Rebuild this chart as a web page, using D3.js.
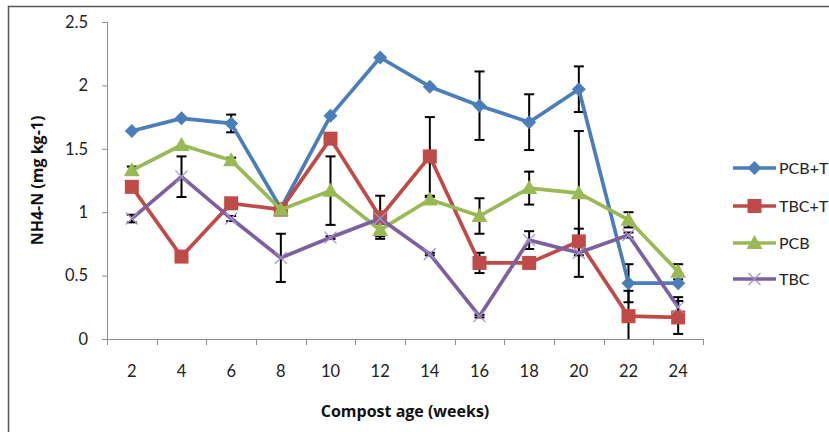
<!DOCTYPE html>
<html><head><meta charset="utf-8">
<script src="https://cdn.jsdelivr.net/npm/d3@7"></script>
<style>
html,body{margin:0;padding:0;background:#fff;}
svg{display:block;font-family:Lato,"Open Sans",sans-serif;}
</style></head>
<body>
<svg id="chart" width="829" height="432"></svg>
<script>
const weeks = [2,4,6,8,10,12,14,16,18,20,22,24];
const seriesNames = ["PCB+T","TBC+T","PCB","TBC"];
const pcbT   = [1.64,1.74,1.70,1.03,1.76,2.22,1.99,1.84,1.71,1.97,0.44,0.44];
const pcbTErr= [0,0,0.07,0,0,0,0,0.27,0.22,0.18,0.15,0];
const tbcT   = [1.20,0.65,1.07,1.02,1.58,0.96,1.44,0.60,0.60,0.77,0.18,0.17];
const tbcTErr= [0,0,0,0,0,0.17,0.31,0.08,0,0,0.20,0.13];
const pcb    = [1.33,1.53,1.41,1.02,1.17,0.86,1.10,0.97,1.19,1.15,0.94,0.53];
const pcbErr = [0.03,0,0.02,0,0.27,0.05,0.02,0.14,0.13,0.49,0.06,0.06];
const tbc    = [0.95,1.28,0.95,0.64,0.80,0.95,0.67,0.18,0.78,0.68,0.82,0.25];
const tbcErr = [0.03,0.16,0.02,0.19,0.01,0,0.01,0.01,0.07,0.19,0.02,0.08];
const yTicks = [0,0.5,1,1.5,2,2.5];
const yTickLabels = ["0","0.5","1","1.5","2","2.5"];
const xTitle = "Compost age (weeks)";
const yTitle = "NH4-N (mg kg-1)";

const colors = ["#4A7EBB","#BE4B48","#98B954","#7D60A0"];
const shapes = ["diamond","square","triangle","cross"];
const values = [pcbT,tbcT,pcb,tbc];
const errs = [pcbTErr,tbcTErr,pcbErr,tbcErr];

const svg = d3.select("#chart");
const L=107,R=703,T=22,B=339;
const x = d3.scaleBand().domain(weeks).range([L,R]);
const y = d3.scaleLinear().domain([0,2.5]).range([B,T]);

// chart border (left and top visible)
svg.append("path").attr("d",`M8.5,440 L8.5,6.5 L840,6.5`).attr("fill","none")
  .attr("stroke","#555").attr("stroke-width",1.5);

// axes
const axisColor="#8c8c8c";
const yAxis = d3.axisLeft(y).tickValues(yTicks).tickFormat((d,i)=>yTickLabels[i]).tickSize(5).tickPadding(14);
const gy = svg.append("g").attr("transform",`translate(${L},0)`).call(yAxis);
gy.select(".domain").attr("stroke",axisColor).attr("d",`M-5,${T+0.5}H0.5V${B}`);
gy.selectAll(".tick line").attr("stroke",axisColor);
gy.selectAll(".tick text").attr("font-size",16.5).attr("fill","#222").attr("font-family","Lato");

const gx = svg.append("g").attr("transform",`translate(0,${B})`);
gx.append("line").attr("x1",L).attr("x2",R).attr("y1",0.5).attr("y2",0.5).attr("stroke",axisColor);
const bounds = weeks.map(w=>x(w)).concat([R]);
gx.selectAll(".xt").data(bounds).join("line").attr("x1",d=>Math.round(d)+0.5).attr("x2",d=>Math.round(d)+0.5)
  .attr("y1",0).attr("y2",6).attr("stroke",axisColor);
gx.selectAll(".xl").data(weeks).join("text").attr("x",d=>x(d)+x.bandwidth()/2).attr("y",38)
  .attr("text-anchor","middle").attr("font-size",16.5).attr("fill","#222").text(d=>d);

// titles
svg.append("text").attr("x",(L+R)/2).attr("y",417).attr("text-anchor","middle")
  .attr("font-family","'Open Sans'").attr("font-weight","bold").attr("font-size",16).attr("fill","#111").text(xTitle);
svg.append("text").attr("transform",`translate(43,${(T+B)/2}) rotate(-90)`).attr("text-anchor","middle")
  .attr("font-family","'Open Sans'").attr("font-weight","bold").attr("font-size",16).attr("fill","#111").text(yTitle);

const cx = w=>x(w)+x.bandwidth()/2;

// error bars
const eg = svg.append("g");
values.forEach((vals,si)=>{
  vals.forEach((v,i)=>{
    const e = errs[si][i];
    if(!e) return;
    const top = y(Math.min(2.5,v+e)), bot = Math.min(B, y(v-e));
    const xx = cx(weeks[i]);
    eg.append("line").attr("x1",xx).attr("x2",xx).attr("y1",top).attr("y2",bot).attr("stroke","#000").attr("stroke-width",2);
    eg.append("line").attr("x1",xx-5).attr("x2",xx+5).attr("y1",top).attr("y2",top).attr("stroke","#000").attr("stroke-width",2);
    if(y(v-e)<=B) eg.append("line").attr("x1",xx-5).attr("x2",xx+5).attr("y1",bot).attr("y2",bot).attr("stroke","#000").attr("stroke-width",2);
  });
});

function marker(g, shape, px, py, color){
  if(shape==="diamond"){
    const s=7;
    g.append("path").attr("d",`M${px},${py-s}L${px+s},${py}L${px},${py+s}L${px-s},${py}Z`).attr("fill",color);
  } else if(shape==="square"){
    const s=7;
    g.append("rect").attr("x",px-s).attr("y",py-s).attr("width",2*s).attr("height",2*s).attr("fill",color);
  } else if(shape==="triangle"){
    g.append("path").attr("d",`M${px},${py-8}L${px+8},${py+6}L${px-8},${py+6}Z`).attr("fill",color);
  } else {
    const s=6;
    g.append("path").attr("d",`M${px-s},${py-s}L${px+s},${py+s}M${px-s},${py+s}L${px+s},${py-s}`)
      .attr("stroke","#a48fc9").attr("stroke-width",1.2).attr("fill","none");
  }
}

const line = d3.line().x((d,i)=>cx(weeks[i])).y(d=>y(d));
values.forEach((vals,si)=>{
  const g = svg.append("g");
  g.append("path").attr("d",line(vals)).attr("fill","none").attr("stroke",colors[si])
    .attr("stroke-width",3.7).attr("stroke-linejoin","round");
  vals.forEach((v,i)=>marker(g,shapes[si],cx(weeks[i]),y(v),colors[si]));
});

// legend
const legY = [168,206,243,279];
seriesNames.forEach((n,i)=>{
  const g = svg.append("g");
  g.append("line").attr("x1",733).attr("x2",776).attr("y1",legY[i]).attr("y2",legY[i])
    .attr("stroke",colors[i]).attr("stroke-width",3.7);
  marker(g,shapes[i],754.5,legY[i],colors[i]);
  g.append("text").attr("x",779).attr("y",legY[i]+6).attr("font-size",16).attr("fill","#222").text(n);
});
</script>
</body></html>
